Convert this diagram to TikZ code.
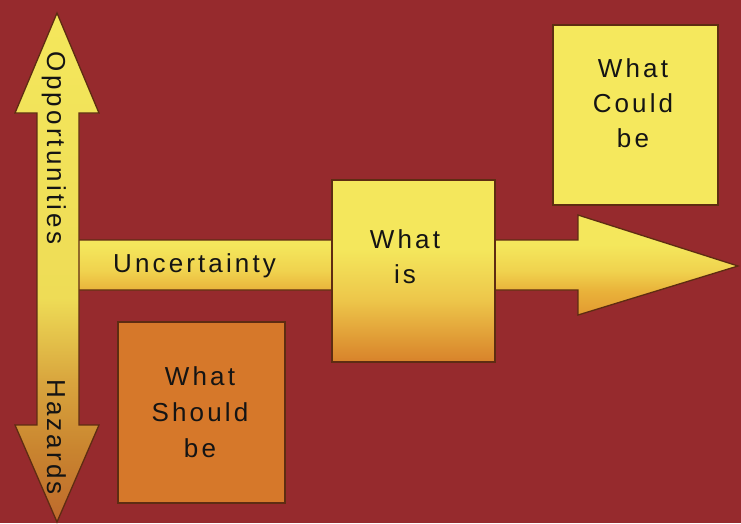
\documentclass[tikz,border=0pt]{standalone}
\usepackage{fontspec}
\newfontfamily\labfont[LetterSpace=12]{Liberation Sans}
\definecolor{bg}{HTML}{962A2D}
\definecolor{edge}{HTML}{5E2C12}
\definecolor{yel}{HTML}{F4E75C}
\definecolor{yel2}{HTML}{EEDC56}
\definecolor{vD}{HTML}{D9A63E}
\definecolor{vC}{HTML}{C9842F}
\definecolor{vB}{HTML}{BE6A2C}
\definecolor{hA}{HTML}{F0D24E}
\definecolor{hB}{HTML}{E9B23A}
\definecolor{hC}{HTML}{E29A30}
\definecolor{iA}{HTML}{EDC64A}
\definecolor{iB}{HTML}{D8822A}
\definecolor{could}{HTML}{F5E85D}
\definecolor{should}{HTML}{D6782A}
\pgfdeclareverticalshading{vertarrow}{100bp}{color(0bp)=(vB); color(25bp)=(vB); color(32bp)=(vC); color(39bp)=(vD); color(47bp)=(yel2); color(75bp)=(yel); color(100bp)=(yel)}
\pgfdeclareverticalshading{horarrow}{100bp}{color(0bp)=(hC); color(25bp)=(hC); color(37bp)=(hB); color(47bp)=(hA); color(60bp)=(yel); color(75bp)=(yel); color(100bp)=(yel)}
\pgfdeclareverticalshading{isbox}{100bp}{color(0bp)=(iB); color(25bp)=(iB); color(42bp)=(iA); color(56bp)=(yel); color(75bp)=(yel); color(100bp)=(yel)}
\tikzset{
  shape outline/.style={draw=edge, line width=1.3pt, line join=miter},
  sqbox/.style={draw=edge, line width=1.3pt, inner sep=0pt, outer sep=0pt},
  lbl/.style={font=\labfont\fontsize{26}{35}\selectfont, text=black!92, inner sep=0pt, align=center},
}
\begin{document}
\begin{tikzpicture}[x=1pt,y=-1pt]
\useasboundingbox (0,0) rectangle (741,523);
\fill[bg] (0,0) rectangle (741,523);
% horizontal arrow
\draw[shape outline, shading=horarrow]
  (57,240) -- (578,240) -- (578,215) -- (738,266) -- (578,315) -- (578,290) -- (57,290) -- cycle;
% vertical double arrow
\draw[shape outline, shading=vertarrow]
  (57,13) -- (99,113) -- (79,113) -- (79,425) -- (99,425) -- (57,522) -- (15,425) -- (37,425) -- (37,113) -- (15,113) -- cycle;
% boxes
\node[sqbox, shading=isbox, minimum width=163pt, minimum height=182pt] (is) at (413.5,271) {};
\node[sqbox, fill=could, minimum width=165pt, minimum height=180pt] (could) at (635.5,115) {};
\node[sqbox, fill=should, minimum width=167pt, minimum height=181pt] (should) at (201.5,412.5) {};
% labels
\node[lbl, anchor=north] (islbl) at (405,229) {What\\is};
\node[lbl, anchor=north] (couldlbl) at (633,58) {What\\Could\\be};
\node[lbl, anchor=north, font=\labfont\fontsize{26}{36}\selectfont] (shouldlbl) at (200,366) {What\\Should\\be};
\node[lbl, anchor=base west] (unc) at (113,272) {Uncertainty};
\node[lbl, anchor=base, rotate=-90] (opp) at (47,148) {Opportunities};
\node[lbl, anchor=base, rotate=-90] (haz) at (47,437) {Hazards};
\end{tikzpicture}
\end{document}
